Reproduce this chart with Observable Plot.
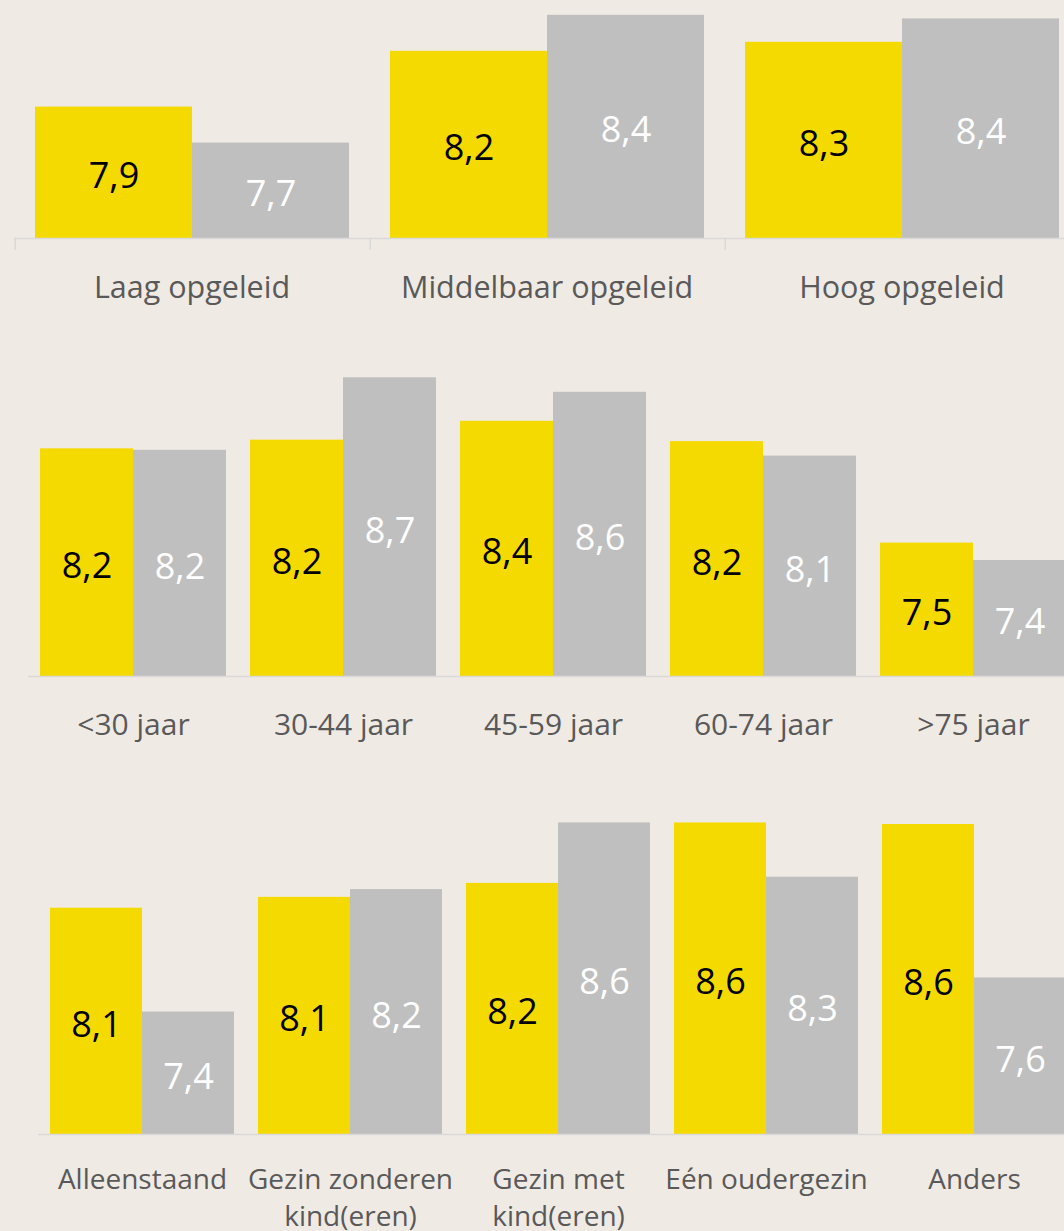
<!DOCTYPE html>
<html><head><meta charset="utf-8">
<script src="https://cdn.jsdelivr.net/npm/d3@7"></script>
<script src="https://cdn.jsdelivr.net/npm/@observablehq/plot@0.6"></script>
<style>
html,body{margin:0;padding:0;background:#F0EAE4;}
#wrap{position:relative;width:1064px;height:1231px;overflow:hidden;background:#F0EAE4;}
#wrap svg{position:absolute;left:0;max-width:none !important;}
</style></head><body><div id="wrap"></div>
<script>
// Series (no legend in the original)
const reeksen = ["Reeks 1", "Reeks 2"];

// Panel 1: opleiding
const opleiding = ["Laag opgeleid", "Middelbaar opgeleid", "Hoog opgeleid"];
const opleidingGeel = [7.93, 8.24, 8.29];
const opleidingGrijs = [7.73, 8.44, 8.42];

// Panel 2: leeftijd
const leeftijd = ["<30 jaar", "30-44 jaar", "45-59 jaar", "60-74 jaar", ">75 jaar"];
const leeftijdGeel = [8.17, 8.23, 8.36, 8.22, 7.52];
const leeftijdGrijs = [8.16, 8.66, 8.56, 8.12, 7.40];

// Panel 3: huishouden
const huishouden = ["Alleenstaand", "Gezin zonderen\nkind(eren)", "Gezin met\nkind(eren)", "Eén oudergezin", "Anders"];
const huishoudenGeel = [8.06, 8.13, 8.22, 8.61, 8.60];
const huishoudenGrijs = [7.39, 8.18, 8.61, 8.26, 7.61];

const GEEL = "#F5DA00", GRIJS = "#BFBFBF", AS = "#D9D9D9", TEKST = "#595959";
const fmt = v => v.toFixed(1).replace(".", ",");

function panel(cfg) {
  const rows = cfg.cats.flatMap((c, i) => [
    {cat: c, reeks: reeksen[0], v: cfg.geel[i]},
    {cat: c, reeks: reeksen[1], v: cfg.grijs[i]}
  ]);
  const base = cfg.base;
  const marks = [
    Plot.barY(rows, {fx: "cat", x: "reeks", y: "v", fill: "reeks"}),
    Plot.ruleY([base], {stroke: AS, strokeWidth: 1.5}),
    Plot.text(rows.filter(d => d.reeks === reeksen[0]), {fx: "cat", x: "reeks", y: d => (base + d.v) / 2, text: d => fmt(d.v), fill: "#000", fontSize: cfg.valSize, dy: 4}),
    Plot.text(rows.filter(d => d.reeks === reeksen[1]), {fx: "cat", x: "reeks", y: d => (base + d.v) / 2, text: d => fmt(d.v), fill: "#fff", fontSize: cfg.valSize, dy: 4}),
    Plot.axisFx({anchor: "bottom", tickSize: 0, tickPadding: cfg.labelPad, fontSize: cfg.labelSize, lineHeight: 1.32, fill: TEKST, label: null})
  ];
  if (cfg.ticks) {
    marks.push(Plot.ruleX(reeksen.slice(0, 1), {x: d => d, dx: cfg.tickDx, y1: base, y2: base, insetBottom: -12, stroke: AS, strokeWidth: 1.5}));
  }
  const svg = Plot.plot({
    width: cfg.width, height: cfg.height,
    marginLeft: cfg.left, marginRight: 0, marginTop: 0, marginBottom: cfg.height - cfg.plotH,
    style: {background: "transparent", fontFamily: "'Open Sans', sans-serif", color: TEKST, maxWidth: "none"},
    fx: {domain: cfg.cats, padding: 0, label: null},
    x: {domain: reeksen, paddingInner: 0, paddingOuter: 0.125, axis: null},
    y: {domain: [base, base + cfg.plotH / cfg.k], clamp: true, axis: null},
    color: {domain: reeksen, range: [GEEL, GRIJS]},
    marks
  });
  svg.style.top = cfg.top + "px";
  svg.style.maxWidth = "none";
  document.getElementById("wrap").appendChild(svg);
}

panel({cats: opleiding, geel: opleidingGeel, grijs: opleidingGrijs, base: 7.2, k: 180,
  top: 0, plotH: 238, height: 320, left: 13, width: 1080, labelPad: 31, ticks: true, tickDx: -98.75,
  valSize: 36, labelSize: 30.5});
panel({cats: leeftijd, geel: leeftijdGeel, grijs: leeftijdGrijs, base: 6.6, k: 145,
  top: 320, plotH: 356, height: 440, left: 28, width: 1078, labelPad: 30, ticks: false,
  valSize: 36, labelSize: 30});
panel({cats: huishouden, geel: huishoudenGeel, grijs: huishoudenGrijs, base: 6.6, k: 155,
  top: 760, plotH: 374, height: 471, left: 38, width: 1078, labelPad: 28, ticks: false,
  valSize: 36, labelSize: 28});
</script></body></html>
